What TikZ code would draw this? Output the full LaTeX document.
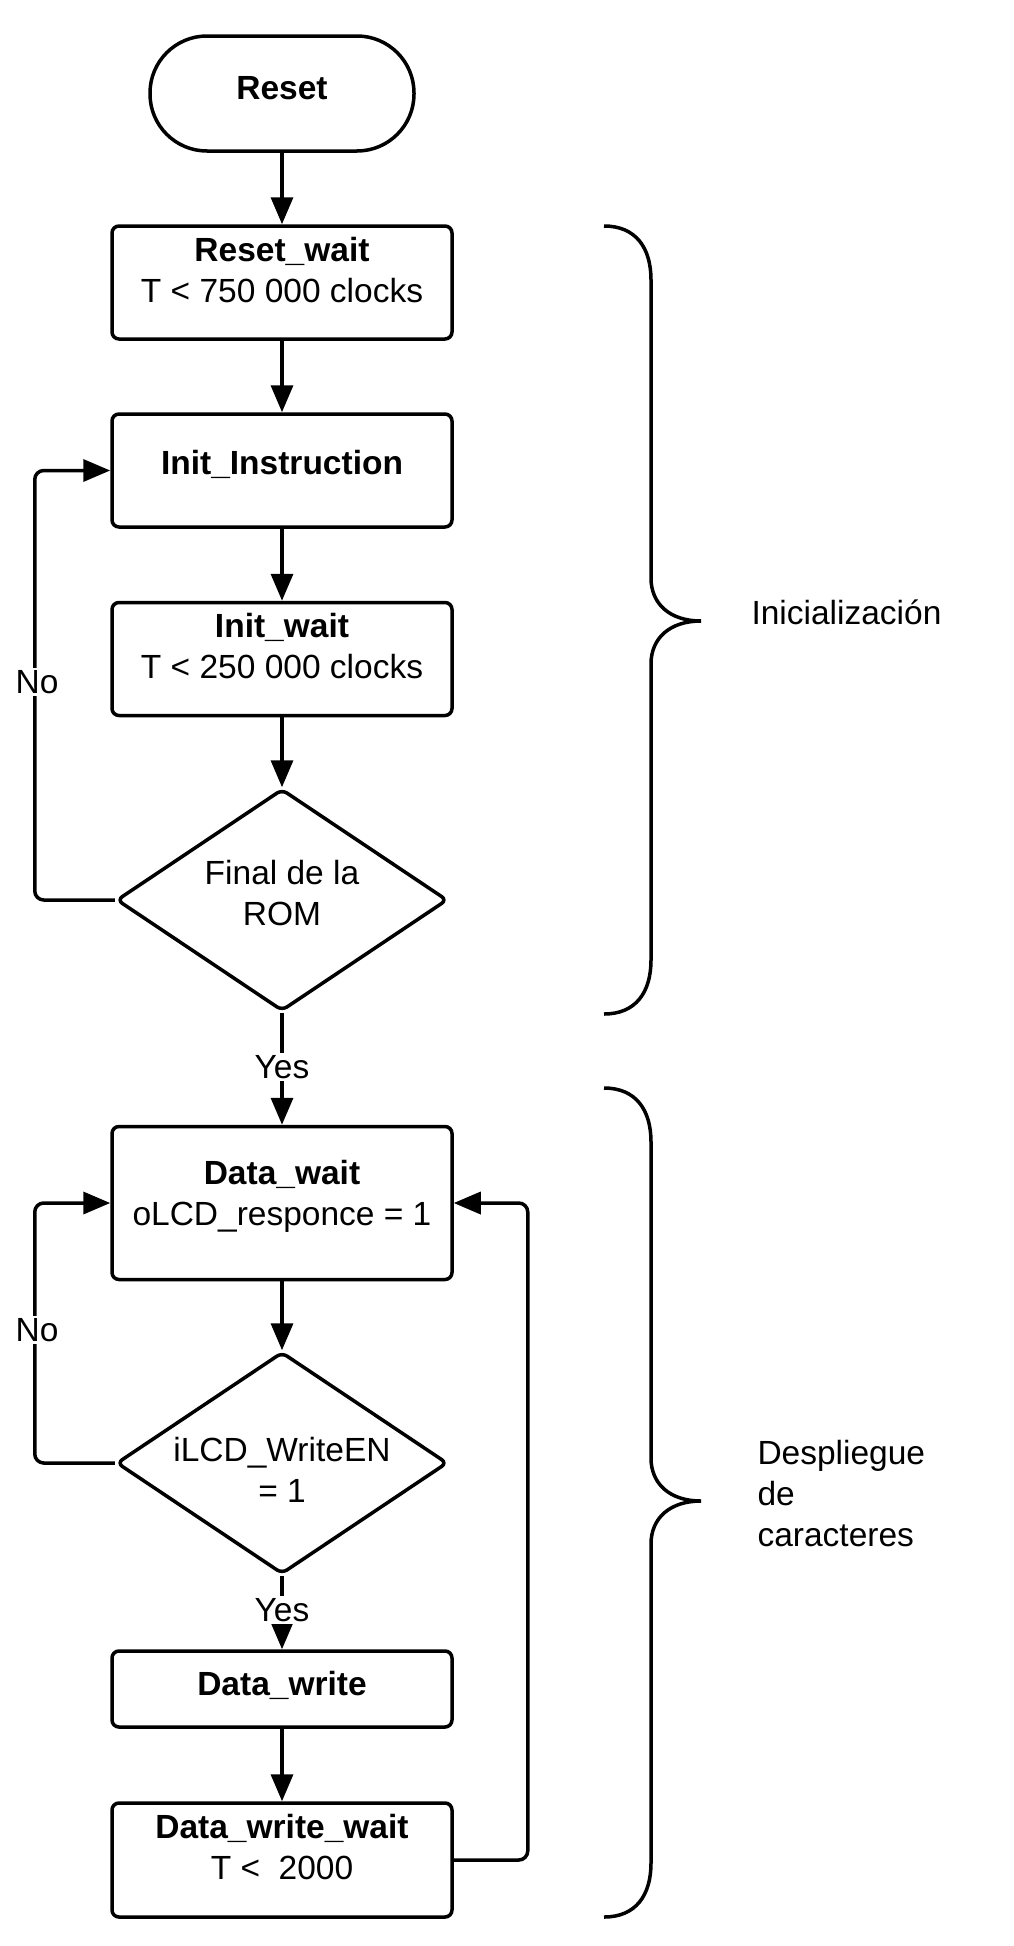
\documentclass[tikz,border=0pt]{standalone}
\usepackage{fontspec}
\setmainfont{Liberation Sans}
\usetikzlibrary{shapes.geometric,arrows.meta}
\begin{document}
\begin{tikzpicture}[x=1pt,y=-1pt,
  font=\fontsize{33.5}{41}\selectfont,
  lw/.style={line width=3.5pt},
  box/.style={lw,draw,rounded corners=7pt,minimum width=340pt,inner sep=0pt,align=center},
  term/.style={lw,draw,rounded corners=57pt,minimum width=264pt,minimum height=115pt,inner sep=0pt},
  dec/.style={lw,draw,diamond,rounded corners=6pt,minimum width=331pt,minimum height=222pt,inner sep=0pt},
  txt/.style={align=center},
  conn/.style={lw,-{Triangle[length=27pt,width=22pt]}},
  loop/.style={conn,rounded corners=9pt},
  lbl/.style={fill=white,inner sep=2pt},
  brace/.style={lw}
]
\useasboundingbox (0,0) rectangle (1013,1946);

\node[term,label={[txt,yshift=5pt]center:\textbf{Reset}}] (rs) at (282,93.5) {};
\node[box,minimum height=113pt,label={[txt,yshift=12pt]center:\textbf{Reset\_wait}\\T < 750 000 clocks}] (rw) at (282,282.5) {};
\node[box,minimum height=113pt,label={[txt,yshift=6pt]center:\textbf{Init\_Instruction}}] (ii) at (282,470.5) {};
\node[box,minimum height=113pt,label={[txt,yshift=13pt]center:\textbf{Init\_wait}\\T < 250 000 clocks}] (iw) at (282,659) {};
\node[dec,label={[txt,yshift=7pt]center:Final de la\\ROM}] (d1) at (282,900) {};
\node[box,minimum height=153pt,label={[txt,yshift=7pt]center:\textbf{Data\_wait}\\oLCD\_responce = 1}] (dw) at (282,1203) {};
\node[dec,label={[txt,yshift=-7pt]center:iLCD\_WriteEN\\= 1}] (d2) at (282,1463) {};
\node[box,minimum height=76pt,label={[txt,yshift=4pt]center:\textbf{Data\_write}}] (dwr) at (282,1689) {};
\node[box,minimum height=114pt,label={[txt,yshift=13pt]center:\textbf{Data\_write\_wait}\\T < \ 2000}] (dww) at (282,1860) {};

\draw[conn] (rs) -- (rw);
\draw[conn] (rw) -- (ii);
\draw[conn] (ii) -- (iw);
\draw[conn] (iw) -- (d1);
\draw[conn] (d1) -- (dw);
\draw[conn] (dw) -- (d2);
\draw[conn] (d2) -- (dwr);
\draw[conn] (dwr) -- (dww);

\draw[loop] (d1.west) -- ++(-80,0) |- (ii.west);
\draw[loop] (d2.west) -- ++(-80,0) |- (dw.west);
\draw[loop] (dww.east) -- ++(74,0) |- (dw.east);

\node[lbl] (no1) at (37,682) {No};
\node[lbl] (no2) at (37,1330) {No};
\node[lbl] (yes1) at (282,1067) {Yes};
\node[lbl] (yes2) at (282,1610) {Yes};

\draw[brace] (604,226) .. controls (636,226) and (651,248) .. (651,280) -- (651,578)
  .. controls (651,604) and (670,621) .. (701,621)
  .. controls (670,621) and (651,638) .. (651,664) -- (651,960)
  .. controls (651,992) and (636,1014) .. (604,1014);
\draw[brace] (604,1088) .. controls (636,1088) and (651,1110) .. (651,1142) -- (651,1458)
  .. controls (651,1484) and (670,1501) .. (701,1501)
  .. controls (670,1501) and (651,1518) .. (651,1544) -- (651,1863)
  .. controls (651,1895) and (636,1917) .. (604,1917);

\node[anchor=west] (t1) at (748,612) {Inicialización};
\node[anchor=west,align=left] (t2) at (754,1494) {Despliegue\\de\\caracteres};
\end{tikzpicture}
\end{document}
